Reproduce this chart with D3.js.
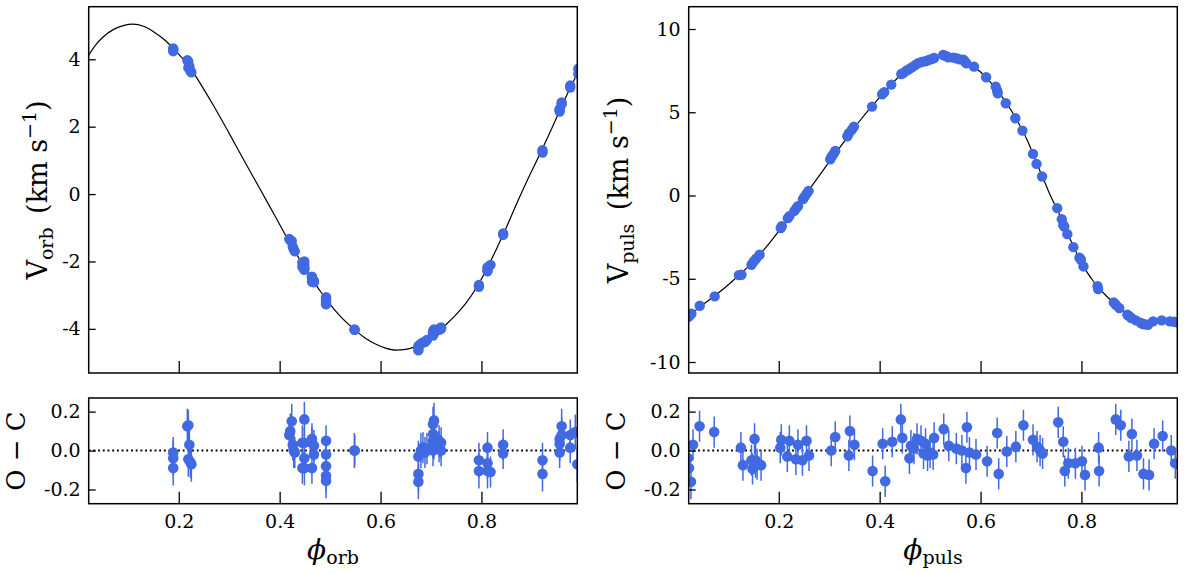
<!DOCTYPE html>
<html><head><meta charset="utf-8">
<script src="https://cdn.jsdelivr.net/npm/d3@7"></script>
<style>body{margin:0;background:#fff} svg{display:block}</style>
</head><body><svg id="c" width="1200" height="573"></svg>
<script>
// ---------------- data ----------------
const xTicks = [0.2, 0.4, 0.6, 0.8];
const orbYTicks = [-4, -2, 0, 2, 4];
const pulsYTicks = [-10, -5, 0, 5, 10];
const residYTicks = [-0.2, 0.0, 0.2];

// orbital model curve [phase, V]
const orbModel = [[0.0215,4.12],[0.035,4.42],[0.05,4.66],[0.07,4.88],[0.09,5.0],[0.11,5.04],[0.13,4.98],[0.15,4.82],[0.17,4.6],[0.19,4.31],[0.21,3.98],[0.23,3.58],[0.25,3.10],[0.27,2.60],[0.30,1.80],[0.33,0.98],[0.36,0.18],[0.39,-0.63],[0.42,-1.44],[0.44,-1.95],[0.46,-2.42],[0.48,-2.87],[0.50,-3.27],[0.52,-3.62],[0.55,-4.04],[0.57,-4.28],[0.59,-4.45],[0.61,-4.57],[0.63,-4.63],[0.65,-4.61],[0.67,-4.52],[0.69,-4.36],[0.71,-4.13],[0.73,-3.87],[0.75,-3.57],[0.77,-3.22],[0.79,-2.78],[0.81,-2.24],[0.83,-1.62],[0.85,-0.97],[0.87,-0.28],[0.89,0.38],[0.91,1.0],[0.93,1.64],[0.95,2.3],[0.97,2.96],[0.99,3.57]];

// orbital RV measurements [phase, V]
const orbPoints = [[0.189,4.32],[0.189,4.29],[0.189,4.24],[0.217,3.97],[0.219,3.93],[0.221,3.79],[0.219,3.75],[0.223,3.66],[0.225,3.61],[0.419,-1.33],[0.421,-1.37],[0.424,-1.39],[0.426,-1.56],[0.428,-1.64],[0.43,-1.70],[0.449,-2.0],[0.449,-2.12],[0.449,-2.2],[0.449,-2.25],[0.445,-2.03],[0.445,-2.16],[0.464,-2.45],[0.464,-2.47],[0.464,-2.6],[0.468,-2.58],[0.468,-2.62],[0.492,-3.06],[0.492,-3.13],[0.492,-3.19],[0.492,-3.24],[0.492,-3.27],[0.548,-4.02],[0.549,-4.03],[0.675,-4.6],[0.675,-4.64],[0.675,-4.51],[0.68,-4.44],[0.684,-4.4],[0.688,-4.39],[0.692,-4.33],[0.704,-4.12],[0.704,-4.07],[0.706,-4.02],[0.704,-4.15],[0.706,-4.14],[0.704,-4.2],[0.716,-4.0],[0.716,-4.03],[0.72,-3.96],[0.72,-4.0],[0.795,-2.7],[0.795,-2.75],[0.812,-2.17],[0.812,-2.25],[0.812,-2.29],[0.818,-2.1],[0.843,-1.17],[0.843,-1.21],[0.921,1.3],[0.921,1.23],[0.955,2.45],[0.955,2.52],[0.955,2.5],[0.959,2.72],[0.959,2.67],[0.976,3.22],[0.976,3.16],[0.992,3.72],[0.992,3.56]];

// orbital residuals [phase, O-C, error]
const orbResid = [[0.189,-0.01,0.08],[0.189,-0.04,0.09],[0.189,-0.09,0.09],[0.217,0.125,0.09],[0.219,0.13,0.08],[0.221,0.03,0.08],[0.219,-0.045,0.09],[0.223,-0.06,0.08],[0.225,-0.07,0.09],[0.419,0.08,0.08],[0.421,0.10,0.09],[0.424,0.15,0.09],[0.426,0.03,0.08],[0.428,0.0,0.09],[0.43,-0.01,0.08],[0.449,0.16,0.09],[0.449,0.04,0.08],[0.449,-0.04,0.08],[0.449,-0.09,0.09],[0.445,0.04,0.09],[0.445,-0.09,0.08],[0.464,0.06,0.08],[0.464,0.04,0.08],[0.464,-0.09,0.08],[0.468,0.025,0.08],[0.468,-0.02,0.07],[0.492,0.05,0.08],[0.492,-0.02,0.08],[0.492,-0.08,0.08],[0.492,-0.13,0.08],[0.492,-0.155,0.09],[0.548,0.0,0.09],[0.549,0.0,0.08],[0.675,-0.12,0.09],[0.675,-0.16,0.09],[0.675,-0.03,0.08],[0.68,0.0,0.09],[0.684,0.015,0.08],[0.688,-0.01,0.08],[0.692,0.01,0.08],[0.704,0.085,0.09],[0.704,0.135,0.09],[0.706,0.155,0.09],[0.704,0.05,0.09],[0.706,0.035,0.08],[0.704,0.0,0.08],[0.716,0.05,0.08],[0.716,0.02,0.08],[0.72,0.04,0.08],[0.72,0.0,0.08],[0.795,-0.05,0.09],[0.795,-0.105,0.09],[0.812,0.015,0.08],[0.812,-0.065,0.08],[0.812,-0.105,0.09],[0.818,-0.11,0.08],[0.843,0.03,0.08],[0.843,-0.015,0.08],[0.921,-0.05,0.09],[0.921,-0.12,0.09],[0.955,-0.01,0.08],[0.955,0.06,0.08],[0.955,0.035,0.09],[0.959,0.125,0.09],[0.959,0.08,0.09],[0.976,0.08,0.08],[0.976,0.015,0.08],[0.986,0.095,0.09],[0.99,-0.07,0.09]];

// pulsation model curve [phase, V]
const pulsModel = [[0.0202,-7.32],[0.04,-6.78],[0.06,-6.32],[0.08,-5.86],[0.10,-5.36],[0.12,-4.82],[0.14,-4.26],[0.16,-3.62],[0.18,-2.92],[0.20,-2.14],[0.22,-1.32],[0.24,-0.5],[0.26,0.34],[0.28,1.18],[0.30,2.02],[0.32,2.84],[0.34,3.66],[0.36,4.46],[0.38,5.2],[0.40,5.9],[0.42,6.58],[0.44,7.18],[0.46,7.6],[0.48,7.95],[0.50,8.18],[0.52,8.33],[0.54,8.34],[0.56,8.2],[0.58,7.88],[0.60,7.42],[0.62,6.8],[0.64,6.05],[0.66,5.15],[0.68,4.08],[0.69,3.48],[0.70,2.8],[0.71,2.05],[0.72,1.32],[0.73,0.6],[0.74,-0.1],[0.75,-0.72],[0.76,-1.38],[0.77,-2.1],[0.78,-2.78],[0.79,-3.42],[0.80,-4.02],[0.81,-4.56],[0.82,-5.0],[0.83,-5.4],[0.85,-6.05],[0.87,-6.6],[0.89,-7.12],[0.91,-7.52],[0.92,-7.65],[0.935,-7.72],[0.95,-7.62],[0.97,-7.55],[0.99,-7.6]];

// pulsation RV measurements [phase, V]
const pulsPoints = [[0.021,-7.28],[0.024,-7.2],[0.0268,-7.1],[0.0434,-6.62],[0.073,-6.06],[0.121,-4.78],[0.126,-4.76],[0.146,-4.16],[0.150,-3.98],[0.155,-3.8],[0.162,-3.56],[0.204,-1.96],[0.206,-1.84],[0.218,-1.36],[0.221,-1.24],[0.231,-0.92],[0.235,-0.76],[0.238,-0.64],[0.248,-0.22],[0.251,-0.08],[0.255,0.1],[0.259,0.28],[0.302,2.18],[0.305,2.34],[0.309,2.52],[0.312,2.68],[0.336,3.56],[0.339,3.74],[0.345,3.96],[0.349,4.14],[0.385,5.34],[0.405,6.08],[0.409,6.2],[0.423,6.66],[0.443,7.3],[0.447,7.36],[0.453,7.5],[0.458,7.58],[0.464,7.7],[0.47,7.82],[0.476,7.94],[0.483,8.02],[0.49,8.06],[0.496,8.12],[0.503,8.2],[0.508,8.26],[0.526,8.44],[0.531,8.38],[0.536,8.3],[0.546,8.28],[0.552,8.24],[0.558,8.18],[0.566,8.16],[0.569,8.04],[0.572,7.94],[0.587,7.74],[0.611,7.1],[0.630,6.54],[0.633,6.3],[0.634,6.14],[0.650,5.54],[0.669,4.64],[0.683,3.9],[0.704,2.5],[0.711,1.9],[0.722,1.14],[0.752,-0.76],[0.761,-1.42],[0.764,-1.78],[0.766,-1.86],[0.772,-2.32],[0.784,-3.1],[0.796,-3.74],[0.799,-3.86],[0.804,-4.26],[0.832,-5.45],[0.833,-5.62],[0.864,-6.42],[0.868,-6.56],[0.875,-6.76],[0.891,-7.16],[0.895,-7.26],[0.899,-7.36],[0.908,-7.5],[0.918,-7.66],[0.922,-7.72],[0.926,-7.74],[0.932,-7.76],[0.942,-7.56],[0.959,-7.5],[0.975,-7.56],[0.984,-7.58],[0.99,-7.62]];

// pulsation residuals [phase, O-C, error]
const pulsResid = [[0.020,-0.04,0.08],[0.022,-0.09,0.08],[0.026,-0.16,0.09],[0.03,0.03,0.08],[0.043,0.125,0.08],[0.072,0.095,0.08],[0.125,0.015,0.08],[0.129,-0.075,0.08],[0.146,-0.05,0.08],[0.148,-0.095,0.08],[0.152,0.06,0.08],[0.154,-0.05,0.09],[0.157,-0.07,0.08],[0.165,-0.075,0.08],[0.203,0.015,0.08],[0.205,0.055,0.08],[0.221,0.05,0.08],[0.217,-0.03,0.08],[0.234,-0.045,0.08],[0.238,0.03,0.08],[0.247,-0.05,0.08],[0.255,0.05,0.08],[0.26,-0.025,0.08],[0.304,0.0,0.08],[0.312,0.07,0.08],[0.339,-0.025,0.08],[0.341,0.1,0.08],[0.35,0.03,0.08],[0.386,-0.105,0.08],[0.406,0.035,0.08],[0.411,-0.158,0.08],[0.425,0.045,0.08],[0.442,0.16,0.08],[0.445,0.065,0.08],[0.459,-0.04,0.08],[0.462,0.025,0.08],[0.468,0.01,0.08],[0.474,0.06,0.08],[0.482,0.05,0.08],[0.487,-0.015,0.08],[0.491,0.035,0.08],[0.495,-0.025,0.08],[0.5,-0.01,0.08],[0.506,-0.02,0.08],[0.508,0.065,0.08],[0.527,0.11,0.08],[0.537,0.025,0.08],[0.552,0.01,0.08],[0.563,0.0,0.08],[0.571,-0.09,0.08],[0.573,0.12,0.08],[0.578,-0.01,0.08],[0.591,-0.02,0.08],[0.613,-0.055,0.08],[0.633,0.09,0.08],[0.636,-0.12,0.08],[0.652,-0.005,0.08],[0.67,0.02,0.08],[0.685,0.13,0.08],[0.704,0.055,0.08],[0.712,0.02,0.08],[0.718,0.0,0.08],[0.723,-0.015,0.08],[0.754,0.145,0.08],[0.764,0.045,0.08],[0.767,-0.105,0.08],[0.774,-0.065,0.08],[0.788,-0.065,0.08],[0.801,-0.055,0.08],[0.807,-0.125,0.08],[0.834,0.015,0.08],[0.835,-0.105,0.08],[0.868,0.16,0.08],[0.878,0.13,0.08],[0.894,-0.03,0.08],[0.9,0.085,0.08],[0.91,-0.025,0.08],[0.923,-0.12,0.08],[0.934,-0.125,0.08],[0.944,0.035,0.08],[0.961,0.075,0.08],[0.978,0.0,0.08],[0.986,-0.065,0.08],[0.992,-0.07,0.08]];

// ---------------- drawing ----------------
const FONT = "'DejaVu Serif', serif";
const BLUE = "#4169E1";
const svg = d3.select("#c");
svg.append("rect").attr("width",1200).attr("height",573).attr("fill","#fff");

const TOP = [6.7, 373], BOT = [398, 503.7];
const xDom = [0.0215, 0.990];
const hy = s => String(s).replace("\u2212","-");

function panel(id, xr, yr, yDom, yTicks, yFmt, xLabels) {
  const x = d3.scaleLinear().domain(xDom).range(xr);
  const y = d3.scaleLinear().domain(yDom).range([yr[1], yr[0]]);
  const g = svg.append("g");
  svg.append("clipPath").attr("id", id).append("rect")
    .attr("x", xr[0]).attr("y", yr[0]).attr("width", xr[1]-xr[0]).attr("height", yr[1]-yr[0]);
  const data = g.append("g").attr("clip-path", `url(#${id})`);

  const ya = d3.axisLeft(y).tickValues(yTicks).tickFormat(d => hy(yFmt(d))).tickSize(-7).tickPadding(8);
  const gy = g.append("g").attr("transform", `translate(${xr[0]},0)`).call(ya);
  gy.select(".domain").remove();
  gy.attr("font-family", FONT).attr("font-size", 19);
  gy.selectAll("line").attr("stroke", "#000").attr("stroke-width", 1.3);
  gy.selectAll("text").attr("fill", "#000");

  const xa = d3.axisBottom(x).tickValues(xTicks).tickFormat(xLabels ? d3.format(".1f") : () => "").tickSize(-12).tickPadding(11);
  const gx = g.append("g").attr("transform", `translate(0,${yr[1]})`).call(xa);
  gx.select(".domain").remove();
  gx.attr("font-family", FONT).attr("font-size", 19);
  gx.selectAll("line").attr("stroke", "#000").attr("stroke-width", 1.3);
  gx.selectAll("text").attr("fill", "#000");

  g.append("rect").attr("x", xr[0]).attr("y", yr[0]).attr("width", xr[1]-xr[0]).attr("height", yr[1]-yr[0])
    .attr("fill", "none").attr("stroke", "#000").attr("stroke-width", 1.5);
  return {x, y, data};
}

function topPanel(id, xr, yDom, yTicks, model, pts) {
  const p = panel(id, xr, TOP, yDom, yTicks, d3.format("d"), false);
  p.data.append("path").datum(model)
    .attr("d", d3.line().x(d => p.x(d[0])).y(d => p.y(d[1])).curve(d3.curveMonotoneX))
    .attr("fill", "none").attr("stroke", "#000").attr("stroke-width", 1.2);
  p.data.selectAll("circle").data(pts).join("circle")
    .attr("cx", d => p.x(d[0])).attr("cy", d => p.y(d[1])).attr("r", 5.2).attr("fill", BLUE);
}

function botPanel(id, xr, res) {
  const p = panel(id, xr, BOT, [-0.273, 0.27], residYTicks, d3.format(".1f"), true);
  p.data.append("line").attr("x1", xr[0]).attr("x2", xr[1]).attr("y1", p.y(0)).attr("y2", p.y(0))
    .attr("stroke", "#000").attr("stroke-width", 1.9).attr("stroke-dasharray", "1.9,2.8");
  p.data.selectAll("line.err").data(res).join("line").attr("class", "err")
    .attr("x1", d => p.x(d[0])).attr("x2", d => p.x(d[0]))
    .attr("y1", d => p.y(d[1]-d[2])).attr("y2", d => p.y(d[1]+d[2]))
    .attr("stroke", BLUE).attr("stroke-width", 1.5);
  p.data.selectAll("circle").data(res).join("circle")
    .attr("cx", d => p.x(d[0])).attr("cy", d => p.y(d[1])).attr("r", 5.3).attr("fill", BLUE);
}

const LX = [88.7, 577.3], RX = [688.7, 1177.3];
topPanel("cTL", LX, [-5.31, 5.56], orbYTicks, orbModel, orbPoints);
topPanel("cTR", RX, [-10.66, 11.34], pulsYTicks, pulsModel, pulsPoints);
botPanel("cBL", LX, orbResid);
botPanel("cBR", RX, pulsResid);

// ---------------- labels ----------------
function vLabel(xb, cy, sub) {
  const t = svg.append("text").attr("transform", `translate(${xb},${cy}) rotate(-90)`)
    .attr("text-anchor", "middle").attr("font-family", FONT).attr("font-size", 27).attr("fill", "#000");
  t.append("tspan").text("V");
  t.append("tspan").attr("dy", 6).attr("font-size", 19).text(sub);
  t.append("tspan").attr("dy", -6).text("\u2002(km s");
  t.append("tspan").attr("dy", -11).attr("font-size", 19).text("\u22121");
  t.append("tspan").attr("dy", 11).text(")");
}
function ocLabel(xb, cy) {
  svg.append("text").attr("transform", `translate(${xb},${cy}) rotate(-90)`)
    .attr("text-anchor", "middle").attr("font-family", FONT).attr("font-size", 26).attr("fill", "#000")
    .text("O \u2212 C");
}
function phiLabel(cx, by, sub) {
  const t = svg.append("text").attr("x", cx).attr("y", by).attr("text-anchor", "middle")
    .attr("font-family", FONT).attr("font-size", 28).attr("fill", "#000");
  t.append("tspan").attr("font-style", "italic").text("\u03d5");
  t.append("tspan").attr("dy", 5).attr("font-size", 19).text(sub);
}
vLabel(47, 190, "orb");
vLabel(628, 190, "puls");
ocLabel(25, 451);
ocLabel(625, 451);
phiLabel(333, 559, "orb");
phiLabel(933, 559, "puls");
</script></body></html>
